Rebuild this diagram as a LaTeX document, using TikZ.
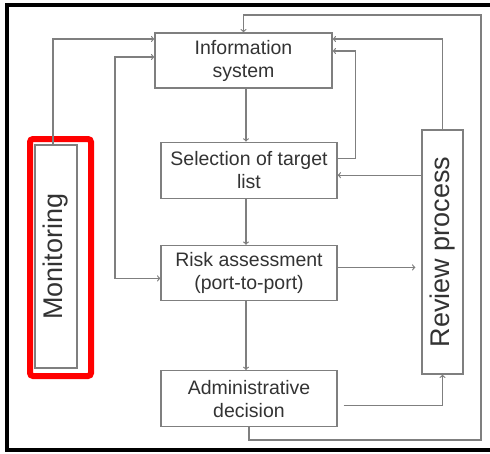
\documentclass[tikz,border=0pt]{standalone}
\usepackage{fontspec}
\setmainfont{Liberation Sans}
\usepackage{xcolor}
\usepackage{tikz}
\usetikzlibrary{positioning, arrows}
\definecolor{linegray}{HTML}{7F7F7F}
\definecolor{textgray}{HTML}{333333}
\tikzstyle{stage} = [rectangle, 
minimum width=177pt, 
minimum height=55pt, 
inner sep=0pt, 
align=center, 
draw=linegray, 
line width=1.2pt, 
text=textgray, 
font=\fontsize{19.5}{23}\selectfont]
\tikzstyle{sidebar} = [rectangle, 
rotate=90, 
minimum height=42pt, 
inner sep=0pt, 
draw=linegray, 
line width=1.2pt, 
text=textgray, 
font=\fontsize{27}{30}\selectfont]
\tikzstyle{arrow} = [line width=1.2pt, draw=linegray, ->, >=to]

\begin{document}
\begin{tikzpicture}[x=1pt, y=-1pt]
\useasboundingbox (0,0) rectangle (490,453);

\node (info) [stage] at (243.5,60.5) {Information\\system};
\node (selection) [stage, minimum width=176pt, minimum height=56pt, below=53pt of info, xshift=5.5pt] {Selection of target\\list};
\node (risk) [stage, minimum width=176pt, below=46pt of selection] {Risk assessment\\(port-to-port)};
\node (admin) [stage, minimum width=176pt, minimum height=56pt, below=69pt of risk] {Administrative\\decision};
\node (monitoring) [sidebar, minimum width=223pt] at (56,256.5) {Monitoring};
\node (review) [sidebar, minimum width=244pt, minimum height=41pt] at (442.5,252) {Review process};

% highlight round the monitoring box
\draw [red, line width=6pt, rounded corners=3pt] ([shift={(-26pt,-119.5pt)}]monitoring.center) rectangle ([shift={(35pt,117.5pt)}]monitoring.center);

\coordinate (midx) at (246,0);
\coordinate (loop) at (115,170);
\coordinate (cornerbr) at (481,440);
\coordinate (cornertr) at (481,15);
\coordinate (selin) at ([yshift=-5pt]selection.east);

\draw [arrow] (info.south -| midx) -- (selection.north -| midx);
\draw [arrow] (selection.south -| midx) -- (risk.north -| midx);
\draw [arrow] (risk.south -| midx) -- (admin.north -| midx);

\draw [arrow] ([xshift=-3pt]monitoring.east) |- ([yshift=21.5pt]info.west);
\draw [arrow, <->] ([yshift=3.5pt]info.west) -| (loop) |- ([yshift=-5.5pt]risk.west);

\draw [arrow] ([yshift=12pt]selection.east) -- ++(18pt,0) |- ([yshift=9.5pt]info.east);
\draw [arrow] (review.east) |- ([yshift=21.5pt]info.east);
\draw [arrow] (review.north |- selin) -- (selin);
\draw [arrow, shorten >=6pt] ([yshift=5.5pt]risk.east) -- ([yshift=5.5pt]risk.east -| review.north);
\draw [arrow, shorten <=6pt] ([yshift=-7pt]admin.east) -| (review.west);
\draw [arrow] (admin.south) |- (cornerbr) -- (cornertr) -| (info.north);

% outer frame
\draw [black, line width=4pt] (490,5) -- (7,5) -- (7,450) -- (490,450);

\end{tikzpicture}
\end{document}
